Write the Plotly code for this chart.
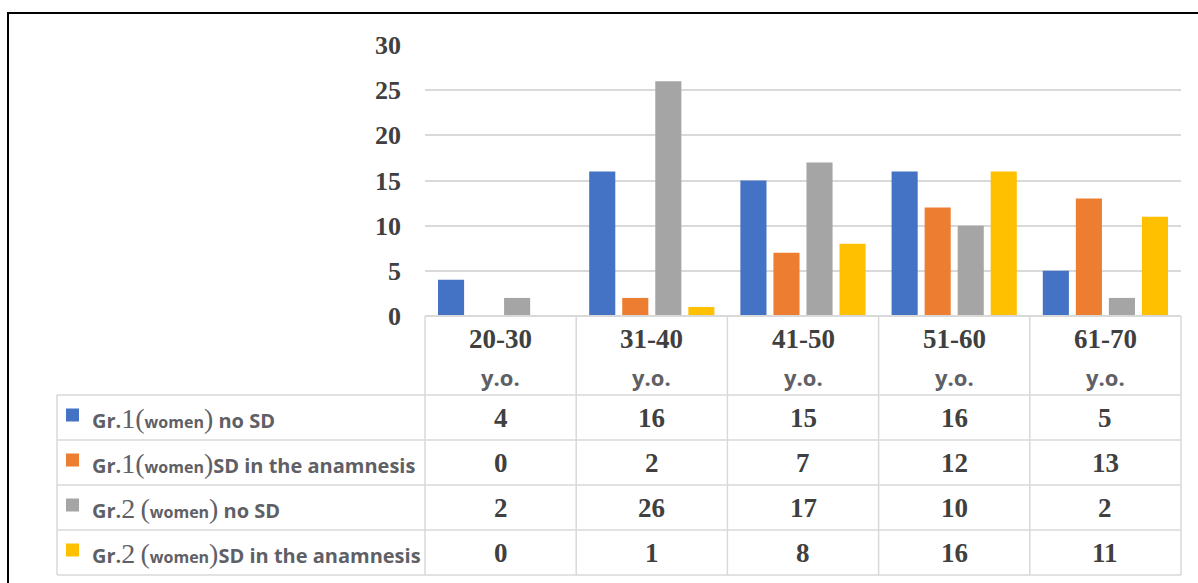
import plotly.graph_objects as go

# Age groups and counts per group of women
categories = ["20-30", "31-40", "41-50", "51-60", "61-70"]
age_suffix = "y.o."
group_names = ["Gr.1", "Gr.1", "Gr.2", "Gr.2"]
group_gap = ["", "", " ", " "]
series_tail = [" no SD", "SD in the anamnesis", " no SD", "SD in the anamnesis"]
gr1_no_sd = [4, 16, 15, 16, 5]
gr1_sd = [0, 2, 7, 12, 13]
gr2_no_sd = [2, 26, 17, 10, 2]
gr2_sd = [0, 1, 8, 16, 11]
y_ticks = [0, 5, 10, 15, 20, 25, 30]

values = [gr1_no_sd, gr1_sd, gr2_no_sd, gr2_sd]
colors = ["#4472c4", "#ed7d31", "#a5a5a5", "#ffc000"]

W, H = 1198, 583


def px(x):
    return x / W


def py(y):
    return 1 - y / H


fig = go.Figure()
for i, vals in enumerate(values):
    fig.add_trace(go.Bar(
        x=categories, y=vals,
        name=group_names[i] + series_tail[i],
        marker=dict(color=colors[i], line=dict(width=0)),
        showlegend=False,
    ))

# Plot area bounds in pixels
X0, X1 = 425, 1181
YT, YB = 45, 316
label_col_x = 57
row_lines = [395, 440, 485, 530, 575]
grid_col = "#d9d9d9"
text_col = "#404040"
label_col = "#5f6066"
serif = "Liberation Serif"
sans = "Open Sans"

shapes = []
# outer frame
shapes.append(dict(type="rect", xref="paper", yref="paper",
                   x0=px(8), x1=px(1210), y0=py(13), y1=py(600),
                   line=dict(color="black", width=2)))
ncat = len(categories)
cw = (X1 - X0) / ncat
# table vertical lines
for k in range(ncat + 1):
    xx = X0 + k * cw
    shapes.append(dict(type="line", xref="paper", yref="paper",
                       x0=px(xx), x1=px(xx), y0=py(YB), y1=py(row_lines[-1]),
                       line=dict(color=grid_col, width=1.5)))
shapes.append(dict(type="line", xref="paper", yref="paper",
                   x0=px(label_col_x), x1=px(label_col_x),
                   y0=py(row_lines[0]), y1=py(row_lines[-1]),
                   line=dict(color=grid_col, width=1.5)))
# table horizontal lines
shapes.append(dict(type="line", xref="paper", yref="paper",
                   x0=px(X0), x1=px(X1), y0=py(YB), y1=py(YB),
                   line=dict(color=grid_col, width=2)))
for r in row_lines:
    shapes.append(dict(type="line", xref="paper", yref="paper",
                       x0=px(label_col_x), x1=px(X1), y0=py(r), y1=py(r),
                       line=dict(color=grid_col, width=1.5)))


def note(x, y, text, font, xanchor="center"):
    return dict(xref="paper", yref="paper", x=px(x), y=py(y), text=text,
                showarrow=False, xanchor=xanchor, yanchor="middle",
                font=font)


annotations = []
# category headers
for k, c in enumerate(categories):
    cx = X0 + (k + 0.5) * cw
    annotations.append(note(cx, 339, c, dict(family=serif, size=27,
                                             color=text_col, weight="bold")))
    annotations.append(note(cx, 377, age_suffix,
                            dict(family=sans, size=22, color=label_col,
                                 weight="bold")))

# rows: legend key, label and values
for i, vals in enumerate(values):
    top, bot = row_lines[i], row_lines[i + 1]
    cy = (top + bot) / 2
    shapes.append(dict(type="rect", xref="paper", yref="paper",
                       x0=px(66), x1=px(79), y0=py(cy - 9), y1=py(cy + 4),
                       fillcolor=colors[i], line=dict(width=0)))
    g = group_names[i]
    big = f"font-family:{serif};font-size:28px;font-weight:normal"
    label = (f"{g[:-1]}<span style='{big}'>{g[-1]}</span>{group_gap[i]}"
             f"<span style='{big}'>(</span>"
             f"<span style='font-size:16px'>women</span>"
             f"<span style='{big}'>)</span>{series_tail[i]}")
    annotations.append(note(90, cy + 1, label,
                            dict(family=sans, size=20, color=label_col,
                                 weight="bold"), xanchor="left"))
    for k, v in enumerate(vals):
        cx = X0 + (k + 0.5) * cw
        annotations.append(note(cx, cy, str(v),
                                dict(family=serif, size=27, color=text_col,
                                     weight="bold")))

fig.update_layout(
    width=W, height=H,
    margin=dict(l=0, r=0, t=0, b=0, autoexpand=False),
    paper_bgcolor="white", plot_bgcolor="white",
    barmode="group", bargap=0.126, bargroupgap=0.21,
    xaxis=dict(domain=[px(X0), px(X1)], showticklabels=False,
               showgrid=False, zeroline=False, showline=False,
               automargin=False),
    yaxis=dict(domain=[py(YB), py(YT)], range=[0, 30],
               tickvals=y_ticks, showgrid=True, gridcolor=grid_col,
               gridwidth=2, zeroline=False, showline=False,
               automargin=False, ticklabelstandoff=23,
               tickfont=dict(family=serif, size=26,
                             color=text_col, weight="bold")),
    shapes=shapes,
    annotations=annotations,
)

fig.write_html("out.html")
